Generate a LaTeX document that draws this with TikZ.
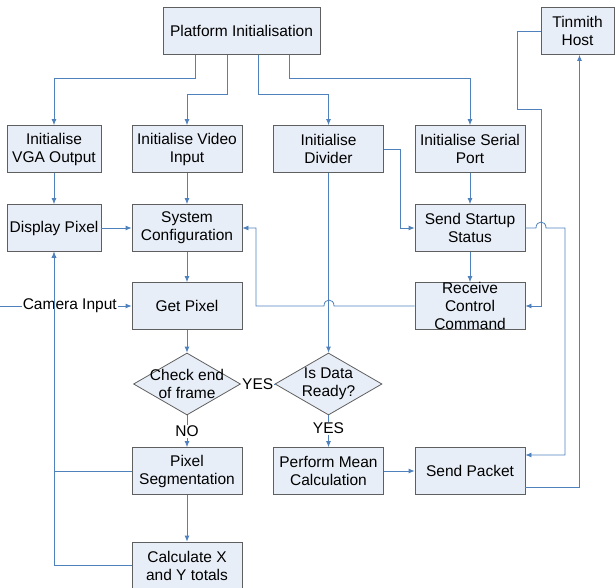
\documentclass[tikz,border=0pt]{standalone}
\usepackage{fontspec}
\setmainfont{Liberation Sans}
\usetikzlibrary{shapes,arrows,arrows.meta,positioning}
\definecolor{boxfill}{RGB}{232,238,247}
\definecolor{boxline}{RGB}{95,95,95}
\definecolor{flowblue}{RGB}{79,129,189}
\tikzset{
  block/.style={draw=boxline, fill=boxfill, line width=0.8pt, minimum width=110pt,
    minimum height=47pt, inner sep=0pt, align=center},
  decision/.style={diamond, draw=boxline, fill=boxfill, line width=0.8pt,
    minimum width=107pt, minimum height=62pt, inner sep=0pt},
  link/.style={draw=flowblue, line width=0.8pt},
  tag/.style={fill=white, inner sep=1pt}
}
\begin{document}
\begin{tikzpicture}[x=1pt,y=-1pt,font=\fontsize{15.5}{18}\selectfont,>={Latex[length=6pt,width=5pt]}]
\useasboundingbox (0,0) rectangle (615,588);
% top row
\node[block,minimum width=157pt] (platform) at (241.5,31) {Platform Initialisation};
\node[block,minimum width=73pt] (tinmith) at (577.5,31) {Tinmith\\Host};
% initialisation row
\node[block,minimum width=94pt] (vga) at (54,149) {Initialise\\VGA Output};
\node[block] (video) at (187,149) {Initialise Video\\Input};
\node[block] (divider) at (328.5,149) {Initialise\\Divider};
\node[block] (serial) at (470,149) {Initialise Serial\\Port};
% configuration row
\node[block,minimum width=94pt] (display) at (54,228) {Display Pixel};
\node[block] (sysconf) at (187,228) {System\\Configuration};
\node[block] (sendstat) at (470,228) {Send Startup\\Status};
% pixel row
\node[block] (getpix) at (187,306) {Get Pixel};
\node[block,label={[align=center]center:Receive\\Control\\Command}] (receive) at (470,306) {};
% decisions
\node[decision,label={[align=center]center:Check end\\of frame}] (check) at (187,384) {};
\node[decision,label={[align=center]center:Is Data\\Ready?}] (isdata) at (328.5,384) {};
% processing row
\node[block] (pixseg) at (187,471) {Pixel\\Segmentation};
\node[block] (mean) at (328.5,471) {Perform Mean\\Calculation};
\node[block] (sendpkt) at (470,471) {Send Packet};
\node[block] (calc) at (187,565.5) {Calculate X\\and Y totals};
\coordinate (camin) at (0,306);

% from platform initialisation
\draw[link,->] ([xshift=-46pt]platform.south) -- ++(0,24) -| (vga.north);
\draw[link,->] ([xshift=-14pt]platform.south) -- ++(0,40) -| (video.north);
\draw[link,->] ([xshift=17pt]platform.south) -- ++(0,40) -| (divider.north);
\draw[link,->] ([xshift=48pt]platform.south) -- ++(0,24) -| (serial.north);
% down the columns
\draw[link,->] (vga) -- (display);
\draw[link,->] (video) -- (sysconf);
\draw[link,->] (serial) -- (sendstat);
\draw[link,->] (divider.east) -- ++(16,0) |- (sendstat.west);
\draw[link,->] (divider.south) -- (isdata.north);
\draw[link,->] (display) -- (sysconf);
\draw[link,->] (sysconf) -- (getpix);
\draw[link,->] (sendstat) -- (receive);
% control command back to configuration (hop over divider line)
\draw[link,->] (receive.west) -- (334,306) .. controls (334,298) and (324,298) .. (324,306)
  -| (256,228) -- (sysconf.east);
% tinmith host links
\draw[link,->] (tinmith.west) -| (517,109) -- (541,109) |- (receive.east);
\draw[link,->] (sendstat.east) -- (536,228) .. controls (536,220) and (546,220) .. (546,228)
  -- (565,228) |- (sendpkt.east |- 0,455);
\draw[link,->] (sendpkt.east |- 0,487) -| ([xshift=2pt]tinmith.south);
% camera input
\draw[link,->] (camin) -- node[tag,pos=0.53] {Camera Input} (getpix.west);
% frame loop
\draw[link,->] (getpix) -- (check);
\draw[link] (check.east) -- node[tag] {YES} (isdata.west);
\draw[link,->] (check.south) -- node[tag] {NO} (pixseg.north);
\draw[link,->] (isdata.south) -- node[tag,pos=0.4] {YES} (mean.north);
\draw[link,->] (mean) -- (sendpkt);
\draw[link,->] (pixseg) -- (calc);
\draw[link,->] (pixseg.west) -| (display.south);
\draw[link,->] (calc.west) -| (display.south);
\end{tikzpicture}
\end{document}
